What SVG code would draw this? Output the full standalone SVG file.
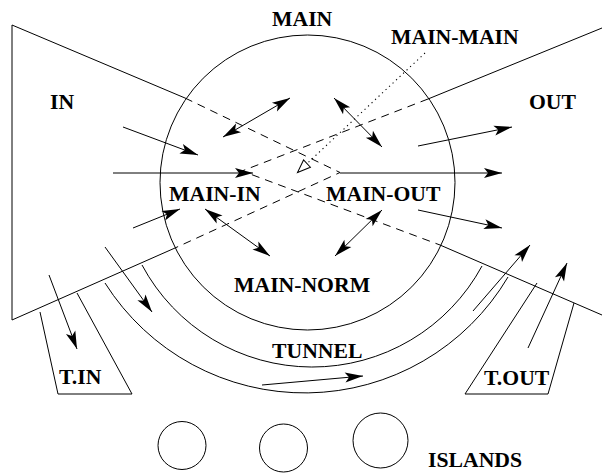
<svg xmlns="http://www.w3.org/2000/svg" width="602" height="475" viewBox="0 0 602 475">
<defs>
<style>
.ln{fill:none;stroke:#000;stroke-width:1}
.ds{fill:none;stroke:#000;stroke-width:1;stroke-dasharray:8 6}
.dt{fill:none;stroke:#000;stroke-width:1.1;stroke-dasharray:1.2 3.6}
.ar{fill:none;stroke:#000;stroke-width:1;marker-end:url(#ah)}
.ar2{fill:none;stroke:#000;stroke-width:1;marker-start:url(#ah);marker-end:url(#ah)}
.lb{font-family:"Liberation Serif","Times New Roman",serif;font-weight:bold;font-size:21.7px;fill:#000}
</style>
<marker id="ah" viewBox="-20 -7 22 14" refX="0" refY="0" markerWidth="22" markerHeight="14" markerUnits="userSpaceOnUse" orient="auto-start-reverse" overflow="visible">
<path d="M0,0 L-18,-5 L-14,0 L-18,5 Z" fill="#000"/>
</marker>
<marker id="oh" viewBox="-16 -7 18 14" refX="0" refY="0" markerWidth="18" markerHeight="14" markerUnits="userSpaceOnUse" orient="auto" overflow="visible">
<path d="M0,0 L-13,-5 L-13,5 Z" fill="#fff" stroke="#000" stroke-width="1"/>
</marker>
</defs>
<rect width="602" height="475" fill="#fff"/>

<g id="IN">
<polyline class="ln" points="185,98 12,25 12,320 175,248"/>
<polyline class="ds" points="185,98 340,172.5 175,248"/>
<text class="lb" x="50" y="109">IN</text>
</g>

<g id="OUT">
<polyline class="ln" points="428,99 602,28"/>
<polyline class="ln" points="440,245 602,315"/>
<polyline class="ds" points="428,99 242,171 440,245"/>
<text class="lb" x="529" y="109">OUT</text>
</g>

<g id="MAIN">
<circle class="ln" cx="307.5" cy="182.5" r="147.5"/>
<text class="lb" x="272" y="26">MAIN</text>
</g>

<g id="MAIN-MAIN">
<text class="lb" x="391" y="44">MAIN-MAIN</text>
</g>
<g id="MAIN-IN"><text class="lb" x="169" y="201">MAIN-IN</text></g>
<g id="MAIN-OUT"><text class="lb" x="326" y="201">MAIN-OUT</text></g>
<g id="MAIN-NORM"><text class="lb" x="234" y="292">MAIN-NORM</text></g>

<g id="TUNNEL">
<path class="ln" d="M142,265 A193.1,193.1 0 0,0 482,266"/>
<path class="ln" d="M105,283 A236.3,236.3 0 0,0 508,277"/>
<text class="lb" x="272" y="358">TUNNEL</text>
</g>

<g id="T.IN">
<polyline class="ln" points="40,312 58,394 132,394 77,293"/>
<text class="lb" x="59" y="384">T.IN</text>
</g>

<g id="T.OUT">
<polyline class="ln" points="537,283 465,394 548,394 574,303"/>
<text class="lb" x="484" y="385">T.OUT</text>
</g>

<g id="ISLANDS">
<circle class="ln" cx="182" cy="445.5" r="24"/>
<circle class="ln" cx="283.5" cy="448" r="24"/>
<circle class="ln" cx="380.5" cy="440.5" r="27.5"/>
<text class="lb" x="428" y="467">ISLANDS</text>
</g>

<g id="connectors">
<line class="dt" x1="425" y1="53" x2="297.5" y2="172.5" marker-end="url(#oh)"/>
<line class="ar" x1="123" y1="127" x2="198" y2="155"/>
<line class="ar" x1="113" y1="173" x2="253" y2="173"/>
<line class="ar" x1="133" y1="228" x2="180" y2="209"/>
<line class="ar2" x1="223" y1="137" x2="290" y2="98"/>
<line class="ar2" x1="334" y1="98" x2="382" y2="147"/>
<line class="ar" x1="418" y1="146" x2="512" y2="127"/>
<line class="ar" x1="340" y1="173" x2="502" y2="173"/>
<line class="ar" x1="418" y1="210" x2="502" y2="228"/>
<line class="ar2" x1="205" y1="209" x2="270" y2="256"/>
<line class="ar2" x1="382" y1="210" x2="335" y2="256"/>
<line class="ar" x1="105" y1="247" x2="152" y2="312"/>
<line class="ar" x1="49" y1="275" x2="77" y2="349"/>
<line class="ar" x1="262" y1="385" x2="363" y2="376"/>
<line class="ar" x1="473" y1="311" x2="530" y2="245"/>
<line class="ar" x1="528" y1="348" x2="567" y2="263"/>
</g>
</svg>
